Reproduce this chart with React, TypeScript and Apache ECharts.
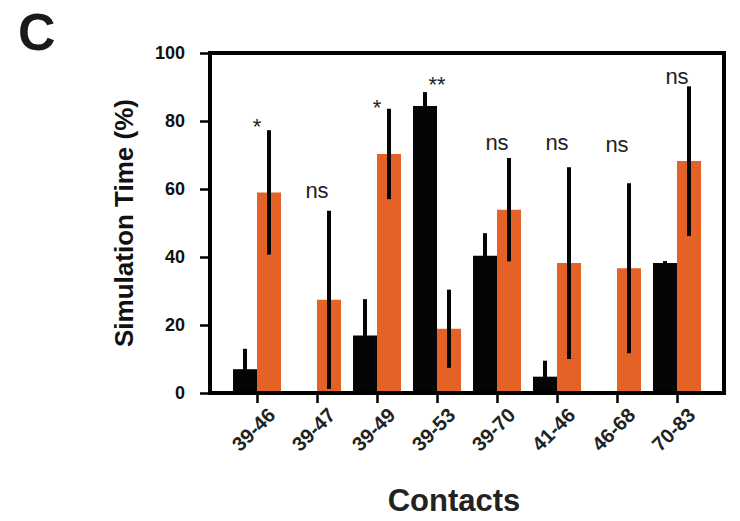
import React, { useEffect, useRef } from "react";
import * as echarts from "echarts";

const categories = ["39-46", "39-47", "39-49", "39-53", "39-70", "41-46", "46-68", "70-83"];
const blackMeans = [7.0, 0, 16.9, 84.4, 40.4, 4.8, 0, 38.2];
const blackErrors = [6.0, 0, 10.7, 4.1, 6.6, 4.7, 0, 0.6];
const orangeMeans = [59.0, 27.4, 70.3, 18.9, 53.9, 38.2, 36.7, 68.2];
const orangeErrors = [18.3, 26.2, 13.3, 11.5, 15.2, 28.2, 25.0, 22.0];
const sigLabels = ["*", "ns", "*", "**", "ns", "ns", "ns", "ns"];
const sigHeights = [78.3, 59.5, 83.9, 90.8, 73.7, 73.7, 73.2, 93.2];
const yTicks = { min: 0, max: 100, interval: 20 };

const FONT = "'Liberation Sans', Arial, Helvetica, sans-serif";
const ORANGE = "#E46226";
const BLACK = "#050505";

function barRenderer(side: number, color: string) {
  return (params: any, api: any) => {
    const idx = api.value(0);
    const mean = api.value(1);
    const sd = api.value(2);
    if (!mean) return { type: "group", children: [] };
    const base = api.coord([idx, 0]);
    const top = api.coord([idx, mean]);
    const band = api.size([1, 0])[0];
    const w = band * 0.4;
    const x0 = side < 0 ? base[0] - w : base[0];
    const lo = api.coord([idx, Math.max(0, mean - sd)]);
    const hi = api.coord([idx, mean + sd]);
    const cx = x0 + w / 2;
    return {
      type: "group",
      children: [
        {
          type: "rect",
          shape: { x: x0, y: top[1], width: w, height: base[1] - top[1] },
          style: { fill: color },
        },
        {
          type: "line",
          shape: { x1: cx, y1: lo[1], x2: cx, y2: hi[1] },
          style: { stroke: BLACK, lineWidth: 4 },
        },
      ],
    };
  };
}

export default function App() {
  const ref = useRef<HTMLDivElement>(null);
  useEffect(() => {
    document.body.style.margin = "0";
    if (!ref.current) return;
    const chart = echarts.init(ref.current, undefined, { renderer: "svg" });
    const blackData = categories.map((_, i) => [i, blackMeans[i], blackErrors[i]]);
    const orangeData = categories.map((_, i) => [i, orangeMeans[i], orangeErrors[i]]);
    const sigData = categories.map((_, i) => [i, sigHeights[i], sigLabels[i]]);
    chart.setOption({
      animation: false,
      backgroundColor: "#ffffff",
      graphic: [
        {
          type: "text",
          left: 18,
          top: 6,
          style: { text: "C", font: `bold 52px ${FONT}`, fill: "#1a1a1a" },
        },
      ],
      grid: [
        {
          left: 210,
          top: 53,
          width: 514,
          height: 340,
          show: true,
          borderColor: "#000",
          borderWidth: 4,
          backgroundColor: "transparent",
          z: 10,
        },
        { left: 227, top: 53, width: 480, height: 340 },
      ],
      xAxis: [
        { gridIndex: 0, type: "value", show: false, min: 0, max: 1 },
        {
          gridIndex: 1,
          type: "category",
          data: categories,
          boundaryGap: true,
          axisLine: { show: false },
          axisTick: { show: true, alignWithLabel: true, length: 10, lineStyle: { color: "#000", width: 2.5 } },
          axisLabel: {
            rotate: 45,
            align: "center",
            verticalAlign: "middle",
            margin: 33,
            padding: [0, 10, 0, 0],
            fontFamily: FONT,
            fontWeight: "bold",
            fontSize: 20,
            color: "#222",
          },
          splitLine: { show: false },
          name: "Contacts",
          nameLocation: "middle",
          nameGap: 92,
          nameTextStyle: {
            fontFamily: FONT,
            fontWeight: "bold",
            fontSize: 31,
            color: "#222",
            padding: [0, 26, 0, 0],
          },
        },
      ],
      yAxis: [
        { gridIndex: 0, type: "value", show: false, min: 0, max: 1 },
        {
          gridIndex: 1,
          type: "value",
          min: yTicks.min,
          max: yTicks.max,
          interval: yTicks.interval,
          offset: 17,
          axisLine: { show: false },
          axisTick: { show: true, length: 10, lineStyle: { color: "#000", width: 2.5 } },
          axisLabel: {
            margin: 25,
            fontFamily: FONT,
            fontWeight: "bold",
            fontSize: 18,
            color: "#111",
          },
          splitLine: { show: false },
          name: "Simulation Time (%)",
          nameLocation: "middle",
          nameGap: 73,
          nameTextStyle: {
            fontFamily: FONT,
            fontWeight: "bold",
            fontSize: 26,
            color: "#111",
          },
        },
      ],
      series: [
        {
          type: "custom",
          name: "Black",
          xAxisIndex: 1,
          yAxisIndex: 1,
          data: blackData,
          encode: { x: 0, y: 1 },
          renderItem: barRenderer(-1, BLACK),
          z: 2,
        },
        {
          type: "custom",
          name: "Orange",
          xAxisIndex: 1,
          yAxisIndex: 1,
          data: orangeData,
          encode: { x: 0, y: 1 },
          renderItem: barRenderer(1, ORANGE),
          z: 3,
        },
        {
          type: "custom",
          name: "Significance",
          xAxisIndex: 1,
          yAxisIndex: 1,
          data: sigData,
          encode: { x: 0, y: 1 },
          renderItem: (params: any, api: any) => {
            const p = api.coord([api.value(0), api.value(1)]);
            return {
              type: "text",
              x: p[0],
              y: p[1],
              style: {
                text: sigLabels[params.dataIndex],
                font: `22px ${FONT}`,
                fill: "#222",
                align: "center",
                verticalAlign: "middle",
              },
            };
          },
          z: 4,
        },
      ],
    });
    return () => chart.dispose();
  }, []);
  return <div ref={ref} style={{ width: 740, height: 521 }} />;
}
